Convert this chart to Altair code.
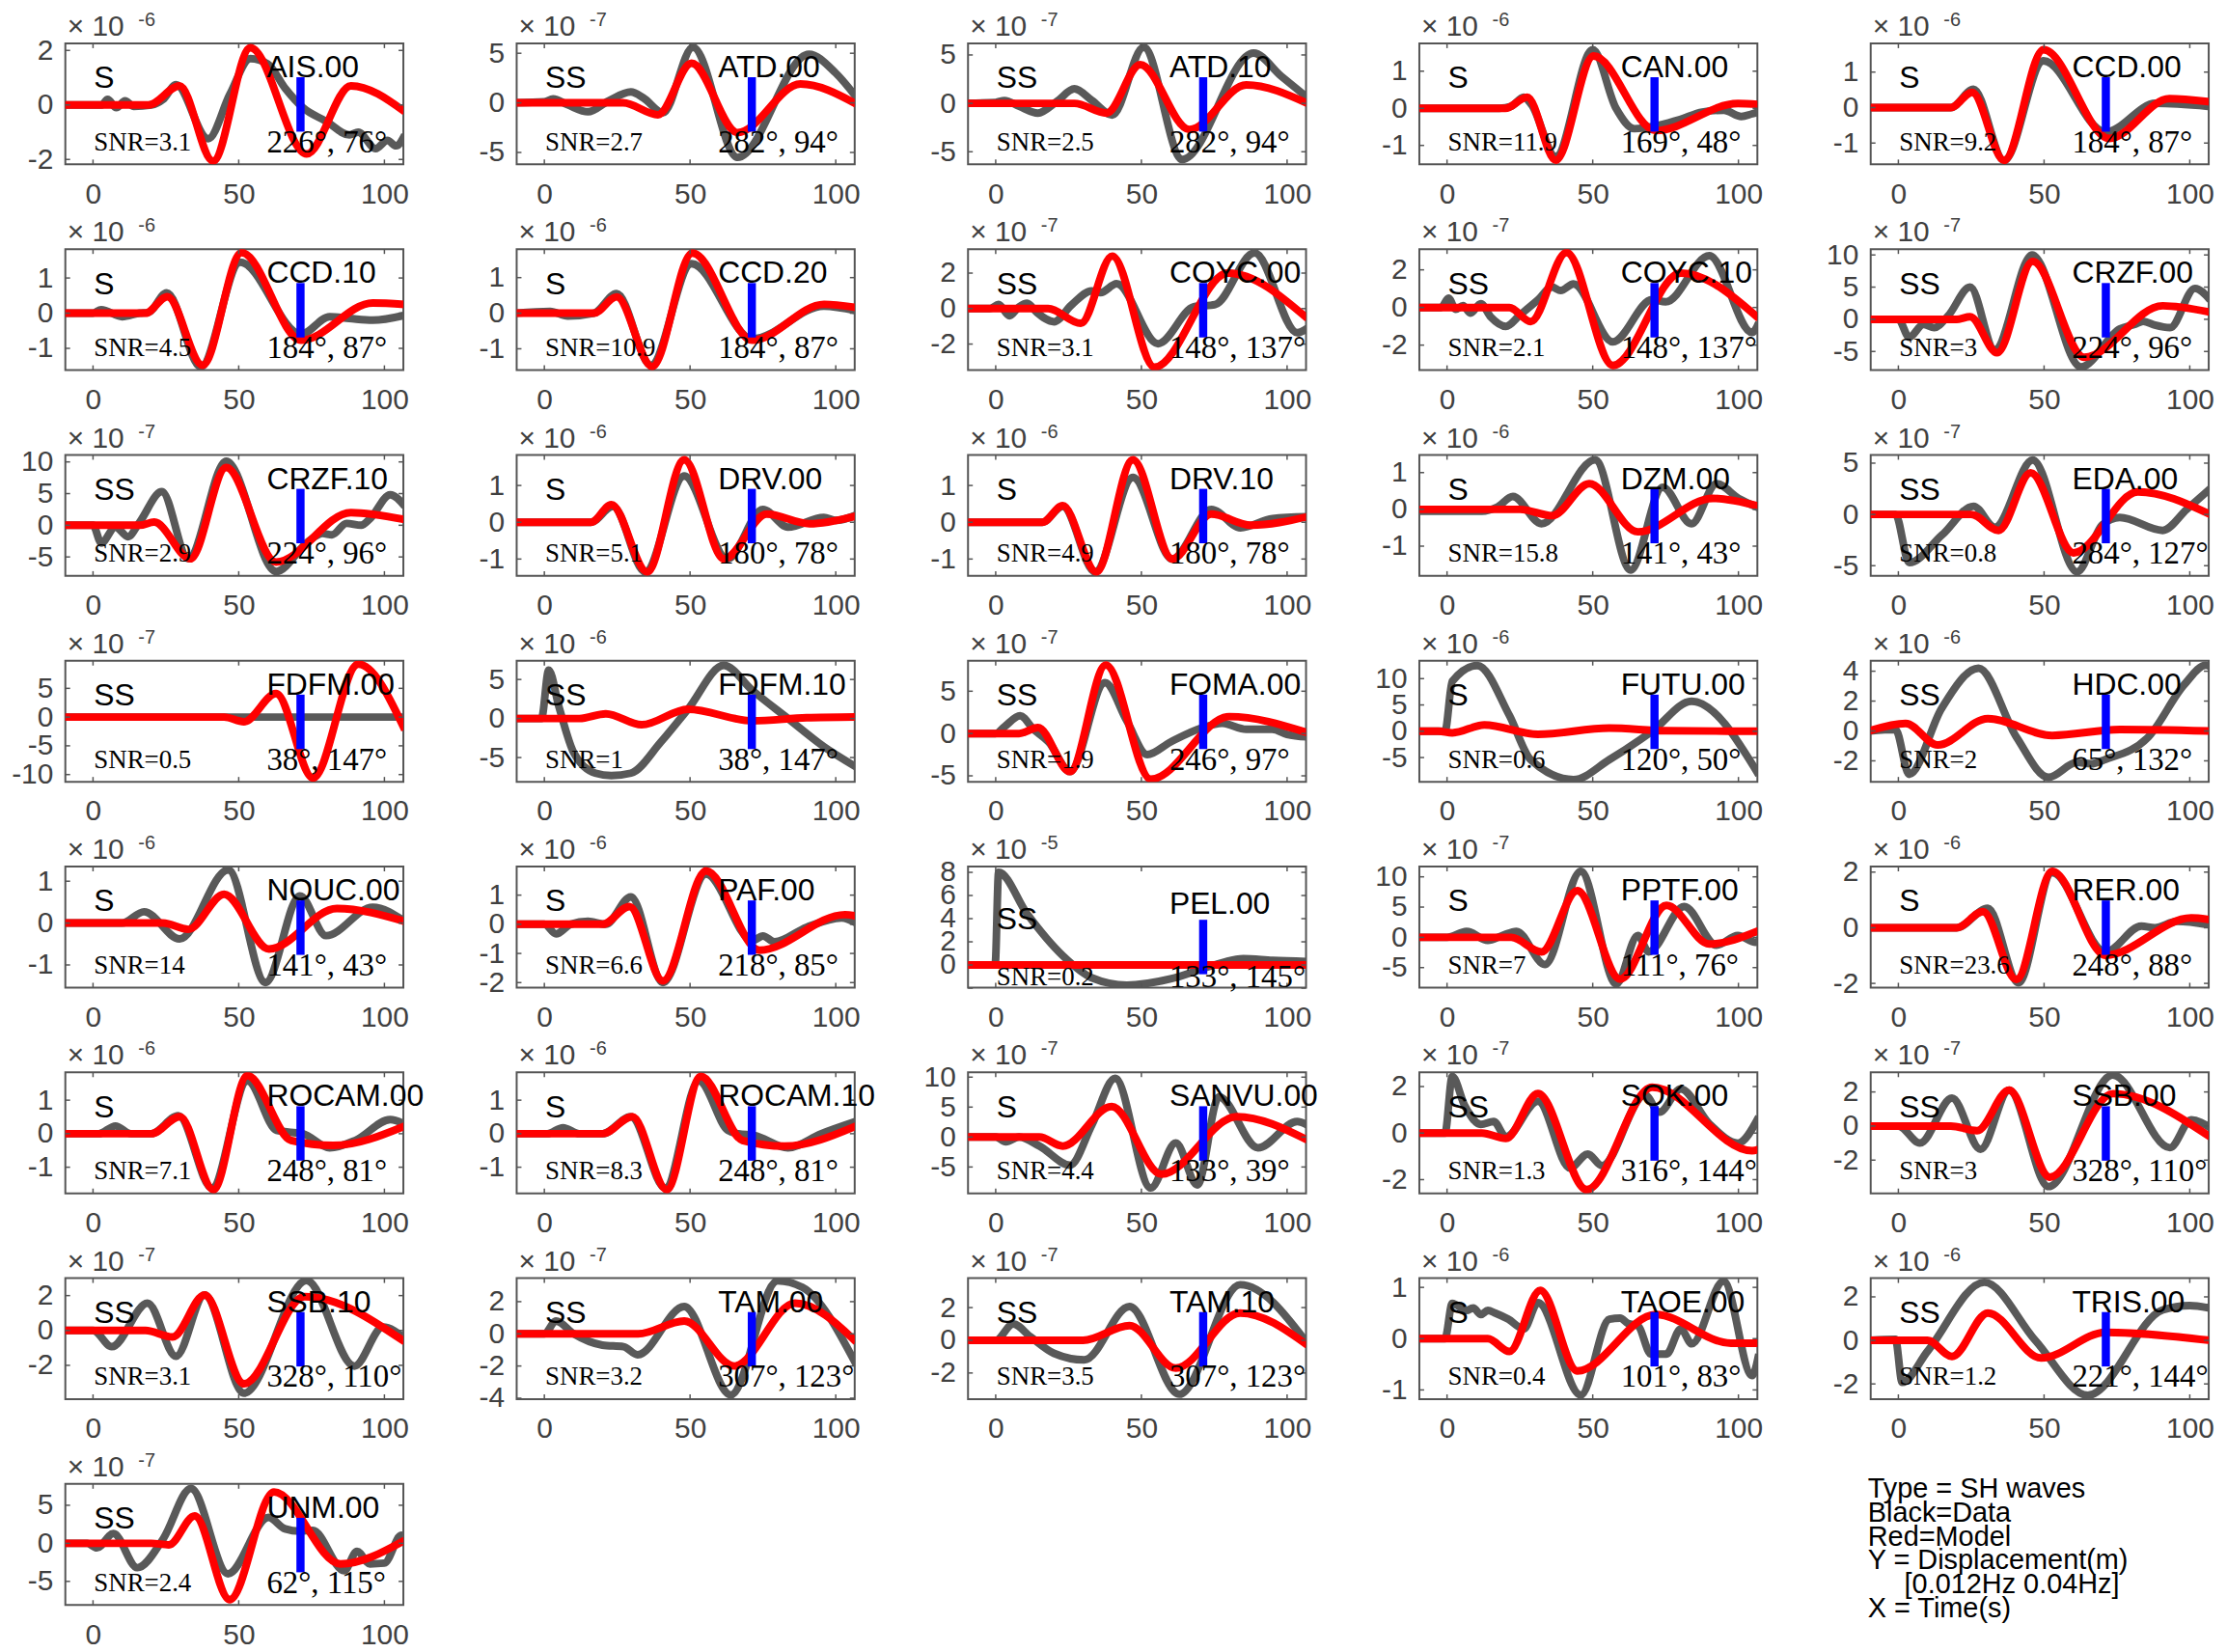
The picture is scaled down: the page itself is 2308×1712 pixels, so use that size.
import altair as alt
import pandas as pd

# ---------------- panel metadata ----------------
STATIONS = ["AIS.00", "ATD.00", "ATD.10", "CAN.00", "CCD.00",
            "CCD.10", "CCD.20", "COYC.00", "COYC.10", "CRZF.00",
            "CRZF.10", "DRV.00", "DRV.10", "DZM.00", "EDA.00",
            "FDFM.00", "FDFM.10", "FOMA.00", "FUTU.00", "HDC.00",
            "NOUC.00", "PAF.00", "PEL.00", "PPTF.00", "RER.00",
            "ROCAM.00", "ROCAM.10", "SANVU.00", "SOK.00", "SSB.00",
            "SSB.10", "TAM.00", "TAM.10", "TAOE.00", "TRIS.00",
            "UNM.00"]
PHASES = ["S", "SS", "SS", "S", "S",
          "S", "S", "SS", "SS", "SS",
          "SS", "S", "S", "S", "SS",
          "SS", "SS", "SS", "S", "SS",
          "S", "S", "SS", "S", "S",
          "S", "S", "S", "SS", "SS",
          "SS", "SS", "SS", "S", "SS",
          "SS"]
SNR = ["3.1", "2.7", "2.5", "11.9", "9.2",
       "4.5", "10.9", "3.1", "2.1", "3",
       "2.9", "5.1", "4.9", "15.8", "0.8",
       "0.5", "1", "1.9", "0.6", "2",
       "14", "6.6", "0.2", "7", "23.6",
       "7.1", "8.3", "4.4", "1.3", "3",
       "3.1", "3.2", "3.5", "0.4", "1.2",
       "2.4"]
AZ_DIST = ["226°, 76°", "282°, 94°", "282°, 94°", "169°, 48°", "184°, 87°",
           "184°, 87°", "184°, 87°", "148°, 137°", "148°, 137°", "224°, 96°",
           "224°, 96°", "180°, 78°", "180°, 78°", "141°, 43°", "284°, 127°",
           "38°, 147°", "38°, 147°", "246°, 97°", "120°, 50°", "65°, 132°",
           "141°, 43°", "218°, 85°", "133°, 145°", "111°, 76°", "248°, 88°",
           "248°, 81°", "248°, 81°", "133°, 39°", "316°, 144°", "328°, 110°",
           "328°, 110°", "307°, 123°", "307°, 123°", "101°, 83°", "221°, 144°",
           "62°, 115°"]
EXPONENT = [-6, -7, -7, -6, -6,
            -6, -6, -7, -7, -7,
            -7, -6, -6, -6, -7,
            -7, -6, -7, -6, -6,
            -6, -6, -5, -7, -6,
            -6, -6, -7, -7, -7,
            -7, -7, -7, -6, -6,
            -7]
Y_LIMITS = [[-2.18, 2.26], [-6.2, 6.0], [-6.3, 6.2], [-1.51, 1.75], [-1.6, 1.81],
            [-1.62, 1.82], [-1.6, 1.8], [-3.47, 3.35], [-3.33, 3.1], [-7.9, 10.9],
            [-8.0, 11.1], [-1.46, 1.83], [-1.46, 1.83], [-1.81, 1.48], [-6.0, 5.8],
            [-11.25, 9.8], [-8.1, 7.4], [-5.7, 8.6], [-9.6, 13.4], [-3.4, 4.7],
            [-1.54, 1.35], [-2.17, 1.98], [-1.95, 8.5], [-8.3, 11.7], [-2.15, 2.2],
            [-1.78, 1.83], [-1.78, 1.83], [-9.4, 10.8], [-2.59, 2.61], [-3.95, 3.15],
            [-3.94, 3.0], [-4.06, 3.46], [-3.6, 3.8], [-1.18, 1.18], [-2.7, 2.86],
            [-8.1, 7.8]]
Y_TICKS = [[-2, 0, 2], [-5, 0, 5], [-5, 0, 5], [-1, 0, 1], [-1, 0, 1],
           [-1, 0, 1], [-1, 0, 1], [-2, 0, 2], [-2, 0, 2], [-5, 0, 5, 10],
           [-5, 0, 5, 10], [-1, 0, 1], [-1, 0, 1], [-1, 0, 1], [-5, 0, 5],
           [-10, -5, 0, 5], [-5, 0, 5], [-5, 0, 5], [-5, 0, 5, 10], [-2, 0, 2, 4],
           [-1, 0, 1], [-2, -1, 0, 1], [-2, 0, 2, 4, 6, 8], [-5, 0, 5, 10], [-2, 0, 2],
           [-1, 0, 1], [-1, 0, 1], [-5, 0, 5, 10], [-2, 0, 2], [-2, 0, 2],
           [-2, 0, 2], [-4, -2, 0, 2], [-2, 0, 2], [-1, 0, 1], [-2, 0, 2],
           [-5, 0, 5]]

TIME_RANGE = [-9.5, 106.5]
TIME_TICKS = [0, 50, 100]
PICK_TIME = 71.2
PHASE_TIME = 0.3
LABEL_TIME = 59.6

LEGEND_LINES = ["Type = SH waves", "Black=Data", "Red=Model",
                "Y = Displacement(m)", "[0.012Hz 0.04Hz]", "X = Time(s)"]

# ---------------- waveforms (time s, amplitude in panel units) ----------------
AIS_00_DATA = [(-10, 0), (3, 0), (5, 0.2), (8, -0.1), (11, 0.15), (14, -0.05), (20, 0), (24, 0.2),
               (28.5, 0.74), (39.5, -1.24), (47, 0.4), (54, 1.7), (60, 1.5), (66, 0.6), (72, -0.1),
               (80, -0.6), (88, -1.1), (91, -1.0), (97, -1.6), (101, -1.3), (104, -1.5), (107, -1.1)]
AIS_00_MODEL = [(-10, 0), (19, 0), (29.7, 0.7), (41.2, -2.06), (54, 2.1), (73.3, -1.8), (88.5, 0.7), (107, -0.25)]

ATD_00_DATA = [(-10, 0), (0, 0.1), (3, 0.4), (8, -0.2), (15, -0.9), (22, 0.2), (29.7, 1.1), (34, 0.5),
               (40.7, -1.0), (51, 5.6), (66.3, -5.5), (90.8, 4.9), (100, 3.0), (107, 0.6)]
ATD_00_MODEL = [(-10, 0), (27, 0), (39, -1.2), (50.5, 4.0), (66.3, -3.0), (87.9, 1.9), (107, -0.1)]

ATD_10_DATA = [(-10, 0), (0, 0.1), (3, 0.3), (8, -0.3), (14.5, -1.0), (21, 0.2), (27, 1.5), (33, 0.3),
               (40, -1.2), (50.8, 5.8), (64, -5.8), (88.5, 5.2), (98, 2.8), (107, 0.6)]
ATD_10_MODEL = [(-10, 0), (27, 0), (38, -1.0), (49.6, 4.0), (66.5, -2.7), (86, 1.9), (107, 0)]

CAN_00_DATA = [(-10, 0), (18, 0), (22, 0.05), (26.3, 0.3), (29, 0.1), (37.3, -1.3), (50, 1.58), (58, 0),
               (64.3, -0.55), (72.9, -0.45), (80, -0.3), (87.6, -0.1), (95, -0.05), (101, -0.22),
               (104.7, -0.15), (107, -0.1)]
CAN_00_MODEL = [(-10, 0), (20, 0), (27.5, 0.3), (37.3, -1.4), (50.3, 1.41), (71.6, -0.6), (99.8, 0.13), (107, 0.1)]

CCD_00_DATA = [(-10, 0), (18, 0), (25.8, 0.52), (36.3, -1.49), (49.8, 1.32), (71.1, -0.69), (88.3, 0.12), (107, 0.03)]
CCD_00_MODEL = [(-10, 0), (18, 0), (25.3, 0.43), (36.3, -1.49), (49.8, 1.63), (72.4, -0.87), (93, 0.25), (107, 0.16)]

CCD_10_DATA = [(-10, 0), (0, 0), (2.8, 0.1), (10, -0.1), (16, 0), (19, 0.02), (25.3, 0.58), (37, -1.53),
               (50.5, 1.45), (71.4, -0.6), (81.2, -0.1), (88, -0.15), (96, -0.2), (107, -0.06)]
CCD_10_MODEL = [(-10, 0), (18, 0), (25.5, 0.47), (37.6, -1.48), (51, 1.72), (71.4, -0.77), (96, 0.29), (107, 0.25)]

CCD_20_DATA = [(-10, 0), (2, 0.05), (8, -0.08), (17, 0), (24.8, 0.55), (36.6, -1.46), (50.5, 1.39),
               (71.4, -0.72), (95.9, 0.2), (107, 0.07)]
CCD_20_MODEL = [(-10, 0), (17, 0), (24.8, 0.46), (37, -1.5), (50.8, 1.69), (71.4, -0.76), (96, 0.25), (107, 0.16)]

COYC_00_DATA = [(-10, 0), (-2, 0), (1, 0.23), (4.7, -0.4), (8, 0.1), (10.8, 0.3), (14, -0.2), (20, -0.74),
                (26, 0.2), (32.9, 1.0), (36, 0.9), (41.5, 1.4), (55.7, -1.98), (68, 0.1), (75.3, 0.23),
                (88.8, 3.14), (103.5, -1.36), (107, -1.1)]
COYC_00_MODEL = [(-10, 0), (18, 0), (29.2, -0.83), (40, 2.96), (54.5, -3.3), (79.7, 2.0), (107, -0.56)]

COYC_10_DATA = [(-10, 0), (-2, 0), (0.5, 0.5), (3, -0.1), (5.5, 0.1), (8, -0.3), (11.6, 0.2), (15, -0.5),
                (20.2, -1.0), (25, -0.4), (31.2, 0.4), (36, 1.08), (39, 0.9), (43.4, 1.25), (56.9, -1.83),
                (70.4, 0.42), (75, 0.3), (90, 2.75), (104.7, -1.33), (107, -0.8)]
COYC_10_MODEL = [(-10, 0), (21.4, 0), (28.7, -0.75), (41, 2.92), (56.9, -3.08), (80.2, 1.83), (107, -0.58)]

CRZF_00_DATA = [(-10, 0), (0, 0), (3.7, -2.8), (8.6, -0.8), (12.3, -1.3), (17, 0.5), (24.6, 5.0), (33.1, -4.7),
                (45.9, 10.0), (62.6, -7.4), (76, -1.5), (81, -0.8), (84, -0.3), (88, -0.9), (93.2, -1.3),
                (101.8, 4.8), (107, 3.0)]
CRZF_00_MODEL = [(-10, 0), (20, 0), (24.6, 0.4), (33.9, -5.2), (46.1, 9.0), (63.8, -5.9), (90.7, 2.1), (107, 1.1)]

CRZF_10_DATA = [(-10, 0), (0, 0), (2.8, -2.8), (7.7, -0.3), (12, -1.8), (16, 0.5), (23.6, 5.3), (32.7, -5.3),
                (45.7, 10.1), (62.8, -7.3), (74, -2.5), (78.8, -1.3), (82, -1.5), (87, 0.3), (92, 0),
                (95, 1.0), (102, 4.8), (107, 3.0)]
CRZF_10_MODEL = [(-10, 0), (16, 0), (21, 0.5), (33.4, -5.3), (45.7, 9.1), (62.8, -5.8), (88.5, 2.0), (107, 0.9)]

DRV_00_DATA = [(-10, 0), (16, 0), (23.5, 0.43), (34.6, -1.35), (48, 1.26), (62.8, -1.0), (75, 0.35),
               (83.6, -0.13), (95.9, 0.13), (100, 0.05), (107, 0.2)]
DRV_00_MODEL = [(-10, 0), (16, 0), (23, 0.48), (35.3, -1.35), (48, 1.7), (61.6, -1.0), (76.3, 0.22), (91, -0.04), (107, 0.17)]

DRV_10_DATA = [(-10, 0), (16, 0), (23, 0.43), (34.1, -1.35), (47.1, 1.22), (60.6, -1.0), (74, 0.35),
               (84, -0.15), (95, 0.1), (107, 0.15)]
DRV_10_MODEL = [(-10, 0), (16, 0), (23, 0.45), (34.5, -1.35), (47.1, 1.7), (60.6, -1.0), (74, 0.22), (87.6, -0.08), (107, 0.15)]

DZM_00_DATA = [(-10, -0.05), (12, -0.05), (17, 0.05), (22.6, 0.35), (32.4, -0.39), (50.8, 1.35), (63, -1.65),
               (74, 0.6), (83.9, -0.39), (92.5, 0.7), (100, 0.3), (107, 0.04)]
DZM_00_MODEL = [(-10, 0), (25, 0), (36.1, -0.17), (48.8, 0.7), (65.5, -0.61), (91.2, 0.3), (107, 0.09)]

EDA_00_DATA = [(-10, 0), (-1, 0), (3.7, -4.7), (15, -2.0), (25.8, 0.8), (33.1, -1.25), (46.1, 5.3),
               (61.3, -5.6), (70, -1.0), (76, -0.3), (90.7, -1.56), (99, 0.5), (107, 2.5)]
EDA_00_MODEL = [(-10, 0), (25, 0), (34.4, -1.56), (45.4, 4.06), (60.1, -3.75), (82.2, 2.2), (107, 0)]

FDFM_00_DATA = [(-10, 0), (50, 0), (107, 0)]
FDFM_00_MODEL = [(-10, 0), (45, 0), (51.8, -0.8), (62.8, 4.1), (75.5, -10.6), (91, 9.2), (107, -2.2)]

FDFM_10_DATA = [(-10, 0), (-1, 0), (1.5, 6.2), (5, 1.5), (10.1, -4.4), (17.5, -7.0), (23, -7.3), (29.7, -7.0),
                (40, -3.0), (49.3, 1.2), (61.6, 6.8), (71.4, 3.6), (83.6, 0), (95.9, -3.6), (107, -6.2)]
FDFM_10_MODEL = [(-10, 0), (12, 0), (21.1, 0.6), (33.4, -0.8), (49.3, 1.2), (71.4, -0.3), (90, 0.1), (107, 0.2)]

FOMA_00_DATA = [(-10, 0), (0, 0), (3, 0.8), (8.4, 2.1), (13, 0.5), (18.2, -1.0), (25.5, -4.5), (37.5, 6.0),
                (45, 1.5), (52, -2.5), (60, -1.0), (71, 0.7), (77.7, 1.2), (86, 0.5), (94.9, 0.5),
                (100, -0.1), (107, -0.4)]
FOMA_00_MODEL = [(-10, 0), (8, 0), (14.5, 0.7), (25.5, -4.5), (37.8, 8.1), (53.2, -5.4), (80.2, 2.0), (107, 0.1)]

FUTU_00_DATA = [(-10, 0), (-0.7, 0), (1.8, 9.5), (10.4, 12.5), (21.4, 3.0), (28.7, -5.4), (43.4, -9.2),
                (55.7, -5.4), (70.4, 0), (83.9, 5.7), (107, -8.3)]
FUTU_00_MODEL = [(-10, 0), (-3, 0), (1.8, -0.3), (12.8, 1.2), (31.2, -0.6), (55.7, 0.6), (75, 0.1), (107, 0)]

HDC_00_DATA = [(-10, 0), (-1, 0.1), (3.7, -2.9), (14.8, 1.5), (27.5, 4.2), (40.5, -0.4), (51.5, -3.1),
               (61.3, -2.1), (66, -2.2), (71.1, -1.9), (85.8, -0.4), (98.1, 3.1), (105.5, 4.4), (107, 4.3)]
HDC_00_MODEL = [(-10, 0), (2.5, 0.5), (13.5, -0.94), (30.7, 0.83), (52.8, -0.3), (76, 0.1), (107, 0)]

NOUC_00_DATA = [(-10, 0), (10, 0), (17.5, 0.27), (29.7, -0.38), (46.4, 1.27), (59.2, -1.42), (71, 0.65),
                (80, -0.3), (96, 0.38), (107, 0.04)]
NOUC_00_MODEL = [(-10, 0), (24, 0), (32.7, -0.15), (45, 0.69), (60.4, -0.62), (83.7, 0.35), (107, 0.04)]

PAF_00_DATA = [(-10, 0), (0, 0), (4, -0.33), (9, 0), (15, 0.1), (21, 0), (29.7, 0.94), (40.7, -2.0),
               (55.5, 1.72), (71.4, -0.56), (75, -0.4), (79, -0.6), (90, -0.1), (102, 0.22), (107, 0.05)]
PAF_00_MODEL = [(-10, 0), (20, 0), (29.2, 0.61), (40.7, -1.94), (55.5, 1.83), (73.8, -0.89), (103.2, 0.33), (107, 0.28)]

PEL_00_DATA = [(-10, 0), (-0.2, 0), (1, 8.0), (10.8, 4.4), (23, 0.8), (32.9, -1.1), (45, -1.75),
               (60, -1.2), (75, 0), (85, 0.55), (95, 0.4), (107, 0.3)]
PEL_00_MODEL = [(-10, 0), (50, 0), (107, 0)]

PPTF_00_DATA = [(-10, 0), (0, 0), (6.7, 1.0), (14, -0.5), (19, 0.3), (23.8, 1.0), (33.6, -4.5), (45.9, 10.9),
                (58.1, -7.7), (65.5, 0.3), (69.2, -2.4), (81.4, 5.1), (92.5, -1.3), (99.8, 0.3),
                (105.9, -0.8), (107, -0.5)]
PPTF_00_MODEL = [(-10, 0), (22, 0), (32.4, -2.4), (44.7, 7.7), (59.4, -6.9), (75.3, 5.3), (90, -1.1), (107, 1.1)]

RER_00_DATA = [(-10, 0), (20, 0), (30.7, 0.7), (41.2, -1.98), (52.8, 1.98), (71.1, -0.87), (83.4, 0.06),
               (88, 0.0), (95.6, 0.23), (107, 0.1)]
RER_00_MODEL = [(-10, 0), (20, 0), (29, 0.58), (40.5, -1.86), (52.8, 2.03), (71.1, -0.99), (100.5, 0.35), (107, 0.29)]

ROCAM_00_DATA = [(-10, 0), (2, 0), (7.7, 0.23), (13, 0), (20, 0), (29.3, 0.54), (40.8, -1.62), (53, 1.57),
                 (63, 0.1), (67, 0.05), (72, 0.0), (81.2, -0.42), (90, -0.2), (102, 0.42), (107, 0.28)]
ROCAM_00_MODEL = [(-10, 0), (20, 0), (29.8, 0.51), (41.3, -1.67), (53, 1.73), (68, -0.2), (82.4, -0.35), (107, 0.23)]

ROCAM_10_DATA = [(-10, 0), (1, 0), (6.4, 0.18), (12, 0), (20, 0), (29.7, 0.51), (41.5, -1.62), (53, 1.57),
                 (63, 0.1), (66.5, 0), (72, -0.05), (83.6, -0.42), (95, 0), (107, 0.37)]
ROCAM_10_MODEL = [(-10, 0), (20, 0), (30.2, 0.51), (42, -1.67), (53.7, 1.71), (68, -0.2), (82.4, -0.37), (107, 0.23)]

SANVU_00_DATA = [(-10, 0), (0, 0), (3.5, -0.8), (8, 0), (15, -1.5), (25.5, -4.7), (33, 2.0), (41, 9.8),
                 (53.2, -8.5), (61.8, -1.0), (69.2, -8.0), (76.6, 6.7), (90, -1.8), (103.5, 2.6), (107, 2.0)]
SANVU_00_MODEL = [(-10, 0), (15, 0), (23, -1.5), (39.8, 5.1), (56.9, -6.2), (82.7, 3.4), (107, -0.5)]

SOK_00_DATA = [(-10, 0), (-0.7, 0), (1.8, 2.44), (6, 1.2), (11.6, 0.37), (16, 0.5), (20.2, -0.16),
               (31.2, 1.37), (42.2, -1.5), (48.3, -0.9), (53.2, -1.4), (67.9, 1.64), (72.9, 0.9),
               (80.2, 1.9), (90, 0.4), (99.8, -0.43), (107, 0.7)]
SOK_00_MODEL = [(-10, 0), (12, 0), (20.2, -0.23), (31.2, 1.7), (47.9, -2.43), (70.4, 1.97), (104.7, -0.76), (107, -0.7)]

SSB_00_DATA = [(-10, 0), (0, 0), (7.4, -1.0), (18.4, 1.64), (28.2, -1.36), (38, 2.1), (51.5, -3.55),
               (73.6, 3.0), (93.2, -1.27), (100.5, 0.36), (107, -0.1)]
SSB_00_MODEL = [(-10, 0), (18, 0), (27, -0.27), (38, 2.1), (52, -3.0), (73.6, 1.9), (107, -0.64)]

SSB_10_DATA = [(-10, 0), (0, 0), (6.4, -0.93), (18.7, 1.57), (28.5, -1.48), (38.3, 2.04), (51.8, -3.6),
               (73.3, 2.87), (89.7, -2.04), (99.5, 0.19), (107, -0.46)]
SSB_10_MODEL = [(-10, 0), (18, 0), (27.3, -0.37), (38.3, 2.04), (51.8, -3.06), (72.6, 1.94), (107, -0.65)]

TAM_00_DATA = [(-10, 0), (0, 0), (4, 0.8), (10.1, 0), (19.9, -0.7), (27.2, -0.8), (32, -1.3), (48, 1.7),
               (64, -3.8), (80, 3.3), (88.5, 2.9), (107, -1.9)]
TAM_00_MODEL = [(-10, 0), (32.2, 0), (48, 0.8), (65.2, -2.0), (86, 1.9), (107, -0.5)]

TAM_10_DATA = [(-10, 0), (0, 0), (6, 1.0), (12, 0.2), (20, -0.8), (30.4, -1.2), (45.9, 2.06), (63, -3.3),
               (83.9, 3.4), (107, -0.2)]
TAM_10_MODEL = [(-10, 0), (30, 0), (45.9, 0.9), (61.8, -1.7), (83.9, 1.67), (107, -0.3)]

TAOE_00_DATA = [(-10, 0), (-0.7, 0), (1.8, 0.69), (6.7, 0.55), (9, 0.6), (11.6, 0.47), (14, 0.55),
                (16.5, 0.5), (21, 0.38), (26.3, 0.19), (31.2, 0.7), (45.9, -1.1), (55.7, 0.38),
                (59.4, 0.4), (62, 0.3), (65.5, 0.25), (70, -0.3), (75.3, -0.3), (80.2, 0.19),
                (84, -0.1), (94.9, 1.12), (104.7, -0.72), (107, -0.3)]
TAOE_00_MODEL = [(-10, 0), (14, 0), (21.4, -0.25), (32, 0.94), (44.7, -0.63), (71.6, 0.47), (97.4, -0.09), (107, -0.09)]

TRIS_00_DATA = [(-10, 0), (-1, 0.05), (1.3, -1.93), (10, -0.5), (29.5, 2.67), (47, 0), (65, -2.52),
                (90.7, 1.4), (100, 1.6), (107, 1.48)]
TRIS_00_MODEL = [(-10, 0), (10, 0), (18.4, -0.74), (30.7, 1.26), (49, -0.81), (71.1, 0.37), (107, 0)]

UNM_00_DATA = [(-10, 0), (-2, 0), (1.3, -0.6), (7, 1.27), (15.2, -3.2), (24.1, 0.6), (33.6, 7.2),
               (46.3, -4.0), (60.2, 3.4), (65.9, 1.9), (71, 1.6), (75.4, 1.7), (86.2, -3.6),
               (90.6, -1.05), (95, -2.7), (100, -2.6), (105.8, 1.05), (107, 0.5)]
UNM_00_MODEL = [(-10, 0), (20, 0), (26, -0.2), (34.9, 3.6), (46.9, -7.4), (62.1, 6.75), (84.9, -2.7), (107, 0.4)]

DATA = [AIS_00_DATA, ATD_00_DATA, ATD_10_DATA, CAN_00_DATA, CCD_00_DATA,
        CCD_10_DATA, CCD_20_DATA, COYC_00_DATA, COYC_10_DATA, CRZF_00_DATA,
        CRZF_10_DATA, DRV_00_DATA, DRV_10_DATA, DZM_00_DATA, EDA_00_DATA,
        FDFM_00_DATA, FDFM_10_DATA, FOMA_00_DATA, FUTU_00_DATA, HDC_00_DATA,
        NOUC_00_DATA, PAF_00_DATA, PEL_00_DATA, PPTF_00_DATA, RER_00_DATA,
        ROCAM_00_DATA, ROCAM_10_DATA, SANVU_00_DATA, SOK_00_DATA, SSB_00_DATA,
        SSB_10_DATA, TAM_00_DATA, TAM_10_DATA, TAOE_00_DATA, TRIS_00_DATA,
        UNM_00_DATA]
MODEL = [AIS_00_MODEL, ATD_00_MODEL, ATD_10_MODEL, CAN_00_MODEL, CCD_00_MODEL,
         CCD_10_MODEL, CCD_20_MODEL, COYC_00_MODEL, COYC_10_MODEL, CRZF_00_MODEL,
         CRZF_10_MODEL, DRV_00_MODEL, DRV_10_MODEL, DZM_00_MODEL, EDA_00_MODEL,
         FDFM_00_MODEL, FDFM_10_MODEL, FOMA_00_MODEL, FUTU_00_MODEL, HDC_00_MODEL,
         NOUC_00_MODEL, PAF_00_MODEL, PEL_00_MODEL, PPTF_00_MODEL, RER_00_MODEL,
         ROCAM_00_MODEL, ROCAM_10_MODEL, SANVU_00_MODEL, SOK_00_MODEL, SSB_00_MODEL,
         SSB_10_MODEL, TAM_00_MODEL, TAM_10_MODEL, TAOE_00_MODEL, TRIS_00_MODEL,
         UNM_00_MODEL]

# ---------------- style ----------------
W, H = 352, 126
GREY = "#595959"
RED = "#ff0000"
BLUE = "#0000ff"
FRAME = "#555555"
TICKLABEL = "#404040"
SANS = "Liberation Sans"
SERIF = "Liberation Serif"
LINE_W = 8

# vertical placement of annotations as fractions of panel height
NORMAL_POS = dict(station=0.20, phase=0.29, bottom=0.82, pick=(0.28, 0.73))
SHIFTED_POS = dict(station=0.31, phase=0.44, bottom=0.92, pick=(0.44, 0.89))


def one_row(**kw):
    return pd.DataFrame({k: [v] for k, v in kw.items()})


def panel(i):
    xs = alt.Scale(domain=TIME_RANGE, nice=False, zero=False)
    ys = alt.Scale(domain=Y_LIMITS[i], nice=False, zero=False)
    xaxis = alt.Axis(values=TIME_TICKS, title=None, grid=False, domain=False, ticks=False,
                     tickSize=0, labelPadding=16, labelFont=SANS, labelFontSize=30,
                     labelColor=TICKLABEL, labelOverlap=False, labelFlush=False,
                     labelExpr="'' + datum.value")
    yaxis = alt.Axis(values=Y_TICKS[i], title=None, grid=False, domain=False, ticks=False,
                     tickSize=0, labelPadding=13, labelFont=SANS, labelFontSize=30,
                     labelColor=TICKLABEL, labelOverlap=False, labelFlush=False,
                     labelExpr="'' + datum.value")
    X = alt.X("t:Q", scale=xs, axis=xaxis)
    Y = alt.Y("v:Q", scale=ys, axis=yaxis)
    pos = SHIFTED_POS if STATIONS[i] == "PEL.00" else NORMAL_POS

    data_df = pd.DataFrame(DATA[i], columns=["t", "v"])
    model_df = pd.DataFrame(MODEL[i], columns=["t", "v"])

    data_line = alt.Chart(data_df).mark_line(
        color=GREY, strokeWidth=LINE_W, interpolate="monotone", clip=True, strokeJoin="round"
    ).encode(x=X, y=Y)
    model_line = alt.Chart(model_df).mark_line(
        color=RED, strokeWidth=LINE_W, interpolate="monotone", clip=True, strokeJoin="round"
    ).encode(x=X, y=Y)

    pick = alt.Chart(one_row(t=PICK_TIME)).mark_rule(color=BLUE, strokeWidth=8.5).encode(
        x=X, y=alt.value(pos["pick"][0] * H), y2=alt.value(pos["pick"][1] * H))

    xt = alt.Chart(pd.DataFrame({"t": TIME_TICKS})).mark_rule(color=FRAME, strokeWidth=1.5)
    tick_bottom = xt.encode(x=X, y=alt.value(H), y2=alt.value(H - 5))
    tick_top = xt.encode(x=X, y=alt.value(0), y2=alt.value(5))
    yt = alt.Chart(pd.DataFrame({"v": Y_TICKS[i]})).mark_rule(color=FRAME, strokeWidth=1.5)
    tick_left = yt.encode(y=Y, x=alt.value(0), x2=alt.value(5))
    tick_right = yt.encode(y=Y, x=alt.value(W - 5), x2=alt.value(W))

    phase = alt.Chart(one_row(t=PHASE_TIME)).mark_text(
        text=PHASES[i], font=SANS, fontSize=32, color="black", align="left", baseline="middle"
    ).encode(x=X, y=alt.value(pos["phase"] * H))
    station = alt.Chart(one_row(t=LABEL_TIME)).mark_text(
        text=STATIONS[i], font=SANS, fontSize=32, color="black", align="left", baseline="middle"
    ).encode(x=X, y=alt.value(pos["station"] * H))
    snr = alt.Chart(one_row(t=PHASE_TIME)).mark_text(
        text="SNR=" + SNR[i], font=SERIF, fontSize=27, color="black", align="left", baseline="middle"
    ).encode(x=X, y=alt.value(pos["bottom"] * H))
    angles = alt.Chart(one_row(t=LABEL_TIME)).mark_text(
        text=AZ_DIST[i], font=SERIF, fontSize=33, color="black", align="left", baseline="middle"
    ).encode(x=X, y=alt.value(pos["bottom"] * H))

    mult = alt.Chart(one_row(a=0)).mark_text(
        text="× 10", font=SANS, fontSize=30, color=TICKLABEL, align="left", baseline="alphabetic"
    ).encode(x=alt.value(2), y=alt.value(-8))
    power = alt.Chart(one_row(a=0)).mark_text(
        text=str(EXPONENT[i]), font=SANS, fontSize=20, color=TICKLABEL, align="left",
        baseline="alphabetic"
    ).encode(x=alt.value(76), y=alt.value(-18))

    return alt.layer(
        data_line, model_line, pick, tick_bottom, tick_top, tick_left, tick_right,
        phase, station, snr, angles, mult, power
    ).properties(width=W, height=H)


def blank():
    return alt.Chart(one_row(a=0)).mark_text(text=" ").encode(
        x=alt.value(0), y=alt.value(0)
    ).properties(width=W, height=H, view=alt.ViewBackground(stroke="transparent"))


def legend():
    layers = []
    for k, line in enumerate(LEGEND_LINES):
        indent = 35 if line.startswith("[") else -3
        layers.append(
            alt.Chart(one_row(a=k)).mark_text(
                text=line, font=SANS, fontSize=29, color="black", align="left",
                baseline="alphabetic"
            ).encode(x=alt.value(indent), y=alt.value(14 + 25 * k))
        )
    return alt.layer(*layers).properties(width=W, height=H,
                                         view=alt.ViewBackground(stroke="transparent"))


panels = [panel(i) for i in range(len(STATIONS))]
panels += [blank(), blank(), blank(), legend()]

chart = alt.concat(
    *panels, columns=5, spacing={"row": 88.3, "column": 118}, bounds="flush"
).properties(
    padding={"left": 2, "top": -2, "right": 4, "bottom": 0},
    background="white",
).configure_view(stroke=FRAME, strokeWidth=2)

chart.save("out.html", embed_options={"renderer": "svg", "actions": False})
